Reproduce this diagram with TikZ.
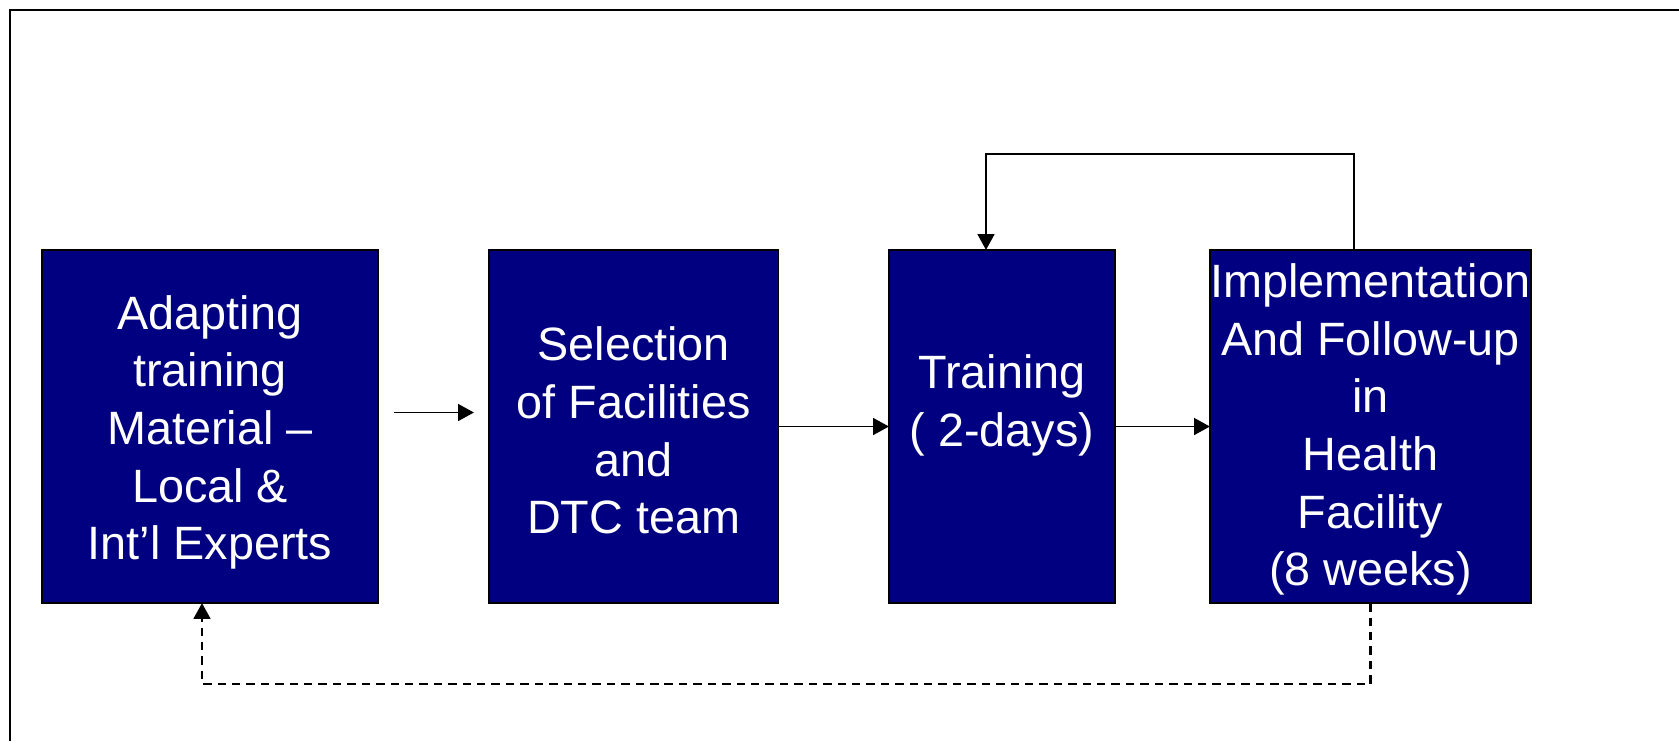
\documentclass[tikz,border=0pt]{standalone}
\usepackage{fontspec}
\setmainfont{Liberation Sans}
\usetikzlibrary{arrows.meta}

\definecolor{boxblue}{RGB}{0,0,128}

\begin{document}
\begin{tikzpicture}[x=0.01cm,y=-0.01cm]
	\useasboundingbox (0,0) rectangle (1679,741);
	% outer frame, only top and left edges show
	\draw[line width=0.7pt] (10,741) -- (10,10) -- (1679,10);

	\begin{scope}[every node/.style={draw=black,line width=0.5pt,fill=boxblue,
	              inner sep=0pt,outer sep=0pt,minimum height=3.53cm}]
	    \node[minimum width=3.36cm] (adapt) at (210,426.5) {};
	    \node[minimum width=2.895cm] (select) at (633.75,426.5) {};
	    \node[minimum width=2.26cm] (train) at (1002,426.5) {};
	    \node[minimum width=3.21cm] (impl) at (1370.5,426.5) {};
	\end{scope}

	\begin{scope}[every node/.style={text=white,align=center,inner sep=0pt,
	              font=\fontsize{13.3}{16.4}\selectfont}]
	    \node (adapttext) at ([yshift=-0.06cm]adapt.center) {Adapting\\training\\Material –\\Local \&\\Int’l Experts};
	    \node (selecttext) at ([yshift=-0.04cm]select.center) {Selection\\of Facilities\\and\\DTC team};
	    \node (traintext) at ([yshift=0.21cm]train.center) {Training\\( 2-days)};
	    \node (impltext) at ([yshift=-0.03cm]impl.center) {Implementation\\And Follow-up\\in\\Health\\Facility\\(8 weeks)};
	\end{scope}

	\begin{scope}[>={Triangle[length=4.5pt,width=4.8pt]},line width=0.5pt]
	    \draw[->] ([xshift=0.16cm,yshift=0.14cm]adapt.east) -- ([xshift=-0.15cm,yshift=0.14cm]select.west);
	    \path[->] (select.east) edge (train.west);
	    \path[->] (train.east) edge (impl.west);
	    % loop back from follow-up to training
	    \draw[->] ([xshift=-0.165cm]impl.north) -- ++(0,-96) -| ([xshift=-0.16cm]train.north);
	    % dashed return to the material
	    \draw[->,line width=0.6pt,dash pattern=on 2.4pt off 1.7pt] (impl.south) -- ++(0,81) -| ([xshift=-0.08cm]adapt.south);
	\end{scope}
\end{tikzpicture}
\end{document}
